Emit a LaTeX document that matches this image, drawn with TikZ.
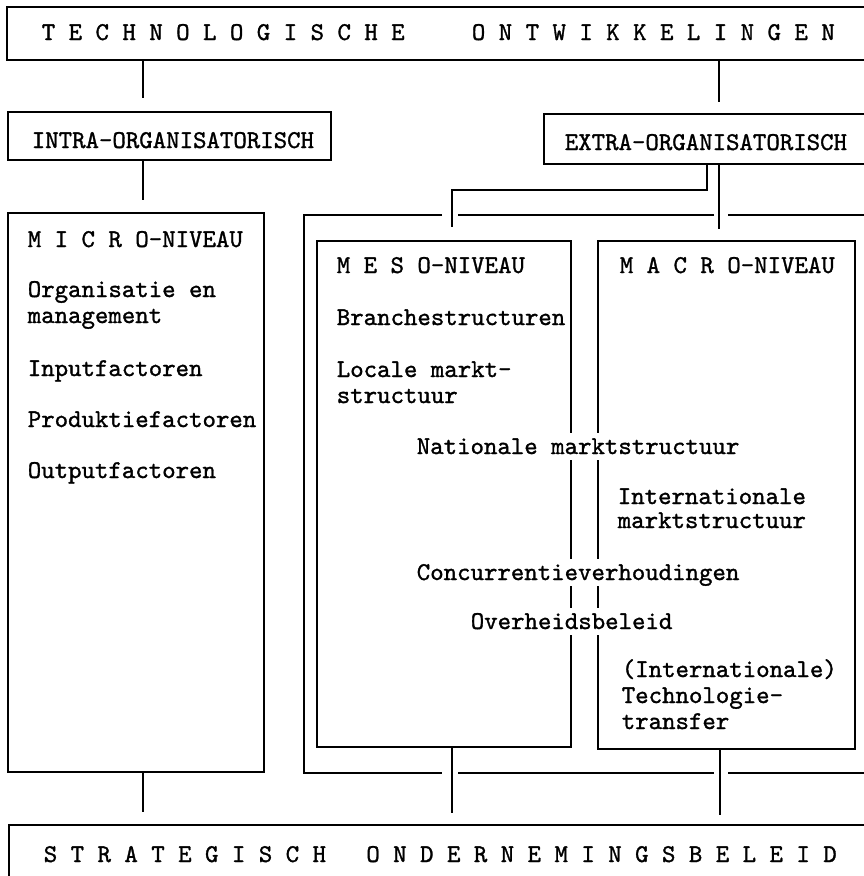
\documentclass[tikz,border=0pt]{standalone}
\usepackage{fontspec}
\newfontfamily\tw[Extension=.otf,FakeBold=1.2]{lmmono10-regular}
\begin{document}
\begin{tikzpicture}[x=1pt,y=-1pt,line width=1.6pt,
  box/.style={draw,inner sep=0pt,outer sep=0pt,anchor=north west},
  txt/.style={anchor=base west,inner sep=0pt,font=\tw\fontsize{25.6}{26}\selectfont},
  cut/.style={txt,fill=white,text height=16pt,text depth=1pt,inner xsep=2pt,inner ysep=5pt}]
\clip (0,0) rectangle (864,876);
% boxes
\node[box,minimum width=880pt,minimum height=53pt] (top) at (7,7) {};
\node[box,minimum width=323pt,minimum height=48pt] (intra) at (8,112) {};
\node[box,minimum width=340pt,minimum height=50pt] (extra) at (544,114) {};
\node[box,minimum width=256pt,minimum height=559pt] (micro) at (8,213) {};
\node[box,minimum width=254pt,minimum height=506pt] (meso) at (317,241) {};
\node[box,minimum width=257pt,minimum height=508pt] (macro) at (598,241) {};
\node[box,minimum width=880pt,minimum height=70pt] (bottom) at (9,825) {};
% frame round meso and macro
\draw (870,215) -- (728,215);
\draw (714,215) -- (458,215);
\draw (442,215) -- (304,215) -- (304,773) -- (442,773);
\draw (458,773) -- (714,773);
\draw (728,773) -- (870,773);
% connectors
\coordinate (c1) at (143,98);
\coordinate (c2) at (719,102);
\coordinate (c3) at (143,200);
\coordinate (e1) at (707,190);
\coordinate (c4) at (452,227);
\coordinate (c5) at (719,229);
\coordinate (c6) at (143,812);
\coordinate (c7) at (452,813);
\coordinate (c8) at (720,815);
\draw (top.south -| c1) -- (c1);
\draw (top.south -| c2) -- (c2);
\draw (intra.south -| c3) -- (c3);
\draw (extra.south -| e1) -- (e1) -| (c4);
\draw (extra.south -| c5) -- (c5);
\draw (micro.south -| c6) -- (c6);
\draw (meso.south -| c7) -- (c7);
\draw (macro.south -| c8) -- (c8);
% texts
\node[txt] (t1) at (41,40) {T E C H N O L O G I S C H E~~~~~O N T W I K K E L I N G E N};
\node[txt] (t2) at (43,862) {S T R A T E G I S C H~~~O N D E R N E M I N G S B E L E I D};
\node[txt] (t3) at (31,148) {INTRA-ORGANISATORISCH};
\node[txt] (t4) at (564,150) {EXTRA-ORGANISATORISCH};
\node[txt] (m1) at (27,247) {M I C R O-NIVEAU};
\node[txt] (m2) at (27,297) {Organisatie en};
\node[txt] (m3) at (27,323) {management};
\node[txt] (m4) at (27,376) {Inputfactoren};
\node[txt] (m5) at (27,427) {Produktiefactoren};
\node[txt] (m6) at (27,478) {Outputfactoren};
\node[txt] (s1) at (336,273) {M E S O-NIVEAU};
\node[txt] (s2) at (336,325) {Branchestructuren};
\node[txt] (s3) at (336,377) {Locale markt-};
\node[txt] (s4) at (336,403) {structuur};
\node[txt] (a1) at (619,273) {M A C R O-NIVEAU};
\node[cut] (n1) at (414,454) {Nationale marktstructuur};
\node[txt] (a2) at (617,504) {Internationale};
\node[txt] (a3) at (617,528) {marktstructuur};
\node[cut] (n2) at (414,580) {Concurrentieverhoudingen};
\node[cut] (n3) at (468,629) {Overheidsbeleid};
\node[txt] (a4) at (621,677) {(Internationale)};
\node[txt] (a5) at (621,703) {Technologie-};
\node[txt] (a6) at (621,729) {transfer};
\end{tikzpicture}
\end{document}
